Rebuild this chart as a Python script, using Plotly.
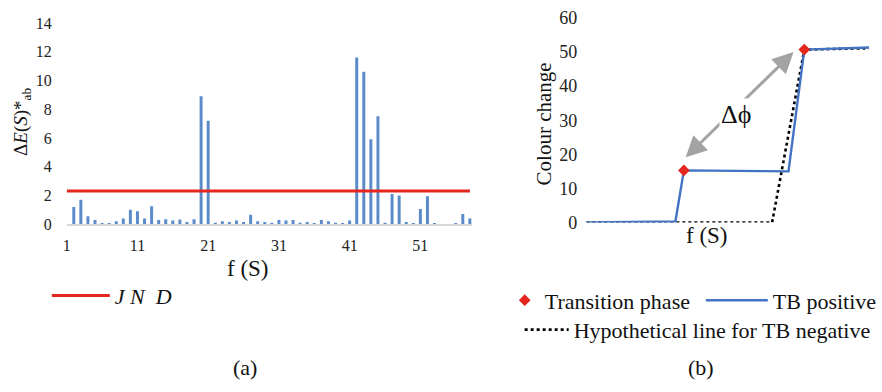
import plotly.graph_objects as go

# ---- panel (a): colour difference per sample ----
samples = list(range(1, 59))
delta_e = [0.0, 1.2, 1.7, 0.55, 0.3, 0.08, 0.08, 0.2, 0.4, 1.0,
           0.9, 0.4, 1.25, 0.3, 0.35, 0.25, 0.33, 0.15, 0.35, 8.9,
           7.2, 0.1, 0.2, 0.15, 0.25, 0.15, 0.65, 0.2, 0.15, 0.1,
           0.3, 0.25, 0.3, 0.1, 0.15, 0.02, 0.3, 0.2, 0.1, 0.05,
           0.25, 11.6, 10.6, 5.9, 7.5, 0.1, 2.1, 2.0, 0.15, 0.05,
           1.05, 1.95, 0.03, 0.0, 0.0, 0.03, 0.7, 0.4]
jnd_value = 2.3
jnd_x = [samples[0], samples[-1]]
x_ticks_a = [1, 11, 21, 31, 41, 51]
y_ticks_a = [0, 2, 4, 6, 8, 10, 12, 14]

# ---- panel (b): schematic colour change curves ----
tb_pos_x = [0, 31.5, 34.5, 71.5, 77.1, 100]
tb_pos_y = [0, 0.3, 15.3, 15.0, 50.7, 51.3]
tb_neg_x = [0, 65.7, 77.1, 100]
tb_neg_y = [0, 0, 50.7, 51.1]
phase_x = [34.5, 77.1]
phase_y = [15.3, 50.7]
y_ticks_b = [0, 10, 20, 30, 40, 50, 60]
# phase-shift arrow end points and its label position
shift_start = (34.6, 18.7)
shift_end = (73.3, 50.0)
shift_label = (52.8, 31.7)

SERIF = "Liberation Serif"
BAR_BLUE = "#5B8BCB"
RED = "#E3261E"
INK = "#111111"
W, H = 882, 392

fig = go.Figure()

fig.add_trace(go.Bar(
    x=samples, y=delta_e, width=0.42, marker=dict(color=BAR_BLUE, line=dict(width=0)),
    showlegend=False, xaxis="x", yaxis="y"))
fig.add_trace(go.Scatter(
    x=jnd_x, y=[jnd_value, jnd_value], mode="lines", name="<i>J N\u00a0 D</i>",
    line=dict(color=RED, width=3), xaxis="x", yaxis="y", legend="legend"))

fig.add_trace(go.Scatter(
    x=tb_neg_x, y=tb_neg_y, mode="lines", name="Hypothetical line for TB negative",
    line=dict(color="black", width=2.6, dash="dot"), xaxis="x2", yaxis="y2",
    legend="legend4"))
fig.add_trace(go.Scatter(
    x=tb_pos_x, y=tb_pos_y, mode="lines", name="TB positive",
    line=dict(color="#4472C4", width=2.4), xaxis="x2", yaxis="y2", legend="legend3"))
fig.add_trace(go.Scatter(
    x=phase_x, y=phase_y, mode="markers", name="Transition phase",
    marker=dict(symbol="diamond", color=RED, size=9), xaxis="x2", yaxis="y2",
    legend="legend2"))


def legend_box(px, py, width):
    return dict(x=px / W, y=1 - py / H, xanchor="left", yanchor="middle",
                bgcolor="rgba(0,0,0,0)", itemwidth=width,
                font=dict(family=SERIF, size=22, color=INK))


def label(text, px, py, size, angle=0):
    return dict(text=text, x=px / W, y=1 - py / H, xref="paper", yref="paper",
                showarrow=False, xanchor="center", yanchor="middle", textangle=angle,
                font=dict(family=SERIF, size=size, color=INK))


ann = [
    label("f (S)", 245, 272, 23),
    label("(a)", 242, 377, 22),
    label("(b)", 700, 377, 22),
    label("f (S)", 706, 238, 23),
    label("Δ<i>E</i>(<i>S</i>)*<sub>ab</sub>", 18, 118, 19, -90),
    label("Colour change", 542, 120, 21, -90),
]
# double-headed phase-shift arrow; the label sits on a white box over its middle
ann.append(dict(text="", x=shift_end[0], y=shift_end[1], ax=shift_start[0],
                ay=shift_start[1], xref="x2", yref="y2", axref="x2", ayref="y2",
                showarrow=True, arrowside="end+start", arrowhead=2, startarrowhead=2,
                arrowsize=1.4, startarrowsize=1.4, arrowwidth=3, arrowcolor="#A3A3A3"))
ann.append(dict(text="Δϕ", x=shift_label[0], y=shift_label[1], xref="x2", yref="y2",
                showarrow=False, bgcolor="white", borderpad=1,
                font=dict(family=SERIF, size=26, color=INK)))

fig.update_layout(
    width=W, height=H, margin=dict(l=0, r=0, t=0, b=0),
    paper_bgcolor="white", plot_bgcolor="white",
    font=dict(family=SERIF, color=INK),
    xaxis=dict(domain=[63 / W, 470 / W], range=[1, 58.28], tickmode="array",
               tickvals=x_ticks_a, showgrid=False, zeroline=False, showline=True,
               linecolor="#D9D9D9", linewidth=1.5, ticks="", ticklabelstandoff=6,
               tickfont=dict(family=SERIF, size=16, color="#222"), anchor="y"),
    yaxis=dict(domain=[1 - 225.7 / H, 1 - 13.6 / H], range=[0, 14], tickmode="array",
               tickvals=y_ticks_a, showgrid=False, zeroline=False, showline=False,
               ticks="", ticklabelstandoff=14,
               tickfont=dict(family=SERIF, size=16, color="#222"), anchor="x"),
    xaxis2=dict(domain=[585 / W, 869 / W], range=[0, 100], showticklabels=False,
                showgrid=False, zeroline=False, showline=False, ticks="", anchor="y2"),
    yaxis2=dict(domain=[1 - 224 / H, 1 - 8.3 / H], range=[0, 60], tickmode="array",
                tickvals=y_ticks_b, showgrid=False, zeroline=False, showline=False,
                ticks="", ticklabelstandoff=8,
                tickfont=dict(family=SERIF, size=18, color="#222"), anchor="x2"),
    legend=legend_box(43, 301, 58),
    legend2=legend_box(503, 306, 30),
    legend3=legend_box(700, 306, 62),
    legend4=legend_box(518, 337, 44),
    annotations=ann,
)

fig.write_html("out.html")
